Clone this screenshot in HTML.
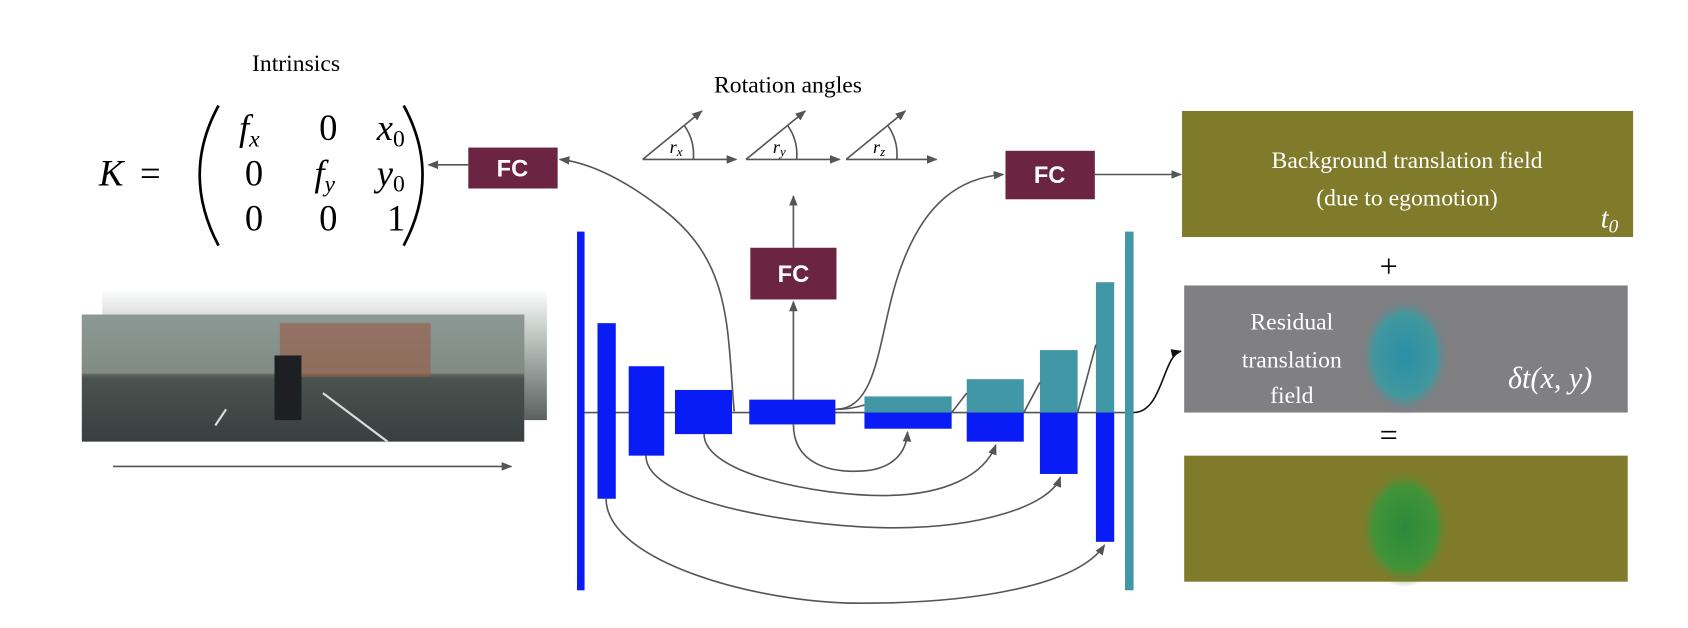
<!DOCTYPE html>
<html><head><meta charset="utf-8"><style>
body{margin:0;background:#fff;}
svg{display:block;font-family:"Liberation Serif",serif;}
</style></head><body>
<svg width="1688" height="628" viewBox="0 0 1568 583" preserveAspectRatio="none">
<defs>
<marker id="ah" markerWidth="10" markerHeight="8" refX="9" refY="4" orient="auto" markerUnits="userSpaceOnUse"><path d="M0,0 L10,4 L0,8 Z" fill="#555"/></marker>
<marker id="ahk" markerWidth="10" markerHeight="8" refX="9" refY="4" orient="auto" markerUnits="userSpaceOnUse"><path d="M0,0 L10,4 L0,8 Z" fill="#111"/></marker>
<linearGradient id="img1" x1="0" y1="0" x2="0" y2="1"><stop offset="0" stop-color="#8a9a98"/><stop offset="0.45" stop-color="#6f7a70"/><stop offset="0.5" stop-color="#4a5350"/><stop offset="1" stop-color="#3a3f3f"/></linearGradient>
<linearGradient id="img0" x1="0" y1="0" x2="0" y2="1"><stop offset="0" stop-color="#ffffff"/><stop offset="0.3" stop-color="#c8d0cc"/><stop offset="1" stop-color="#5a615f"/></linearGradient>
<radialGradient id="blob1" cx="0.5" cy="0.5" r="0.5"><stop offset="0" stop-color="#2a8fa8"/><stop offset="0.7" stop-color="#3a9aa0" stop-opacity="0.9"/><stop offset="1" stop-color="#807f82" stop-opacity="0"/></radialGradient>
<radialGradient id="blob2" cx="0.5" cy="0.5" r="0.5"><stop offset="0" stop-color="#2a8a3a"/><stop offset="0.7" stop-color="#3a963a" stop-opacity="0.9"/><stop offset="1" stop-color="#7f7b2a" stop-opacity="0"/></radialGradient>
</defs>

<text x="275" y="66" font-size="22" text-anchor="middle">Intrinsics</text>
<g font-size="34">
<text x="92" y="172" font-style="italic">K</text>
<text x="130" y="172">=</text>
<path d="M203,98 Q168,162 203,228" stroke="#000" stroke-width="2.5" fill="none"/>
<path d="M375,98 Q410,162 375,228" stroke="#000" stroke-width="2.5" fill="none"/>
<text x="222" y="130" font-style="italic">f<tspan font-size="22" dy="6">x</tspan></text>
<text x="305" y="130" text-anchor="middle">0</text>
<text x="350" y="130" font-style="italic">x<tspan font-size="22" font-style="normal" dy="6">0</tspan></text>
<text x="236" y="172" text-anchor="middle">0</text>
<text x="292" y="172" font-style="italic">f<tspan font-size="22" dy="6">y</tspan></text>
<text x="350" y="172" font-style="italic">y<tspan font-size="22" font-style="normal" dy="6">0</tspan></text>
<text x="236" y="214" text-anchor="middle">0</text>
<text x="305" y="214" text-anchor="middle">0</text>
<text x="368" y="214" text-anchor="middle">1</text>
</g>

<g>
<rect x="435" y="137" width="83" height="38" fill="#6b2442"/>
<text x="476" y="164" font-family="Liberation Sans,sans-serif" font-weight="bold" font-size="22" fill="#fff" text-anchor="middle">FC</text>
</g>
<line x1="435" y1="153" x2="398" y2="153" stroke="#555" stroke-width="1.5" marker-end="url(#ah)"/>

<g>
<rect x="697" y="230" width="80" height="48" fill="#6b2442"/>
<text x="737" y="262" font-family="Liberation Sans,sans-serif" font-weight="bold" font-size="22" fill="#fff" text-anchor="middle">FC</text>
</g>
<line x1="737" y1="230" x2="737" y2="182" stroke="#555" stroke-width="1.5" marker-end="url(#ah)"/>
<line x1="737" y1="371" x2="737" y2="280" stroke="#555" stroke-width="1.5" marker-end="url(#ah)"/>

<g>
<rect x="934" y="140" width="83" height="45" fill="#6b2442"/>
<text x="975" y="170" font-family="Liberation Sans,sans-serif" font-weight="bold" font-size="22" fill="#fff" text-anchor="middle">FC</text>
</g>
<line x1="1017" y1="162" x2="1097" y2="162" stroke="#555" stroke-width="1.5" marker-end="url(#ah)"/>

<text x="732" y="86" font-size="22" text-anchor="middle">Rotation angles</text>
<g stroke="#555" stroke-width="1.5" fill="none">
<line x1="597" y1="148" x2="684" y2="148" marker-end="url(#ah)"/><line x1="597" y1="148" x2="652" y2="103" marker-end="url(#ah)"/><path d="M644,148 A47,47 0 0 0 636,117"/>
<line x1="693" y1="148" x2="780" y2="148" marker-end="url(#ah)"/><line x1="693" y1="148" x2="748" y2="103" marker-end="url(#ah)"/><path d="M740,148 A47,47 0 0 0 732,117"/>
<line x1="786" y1="148" x2="870" y2="148" marker-end="url(#ah)"/><line x1="786" y1="148" x2="841" y2="103" marker-end="url(#ah)"/><path d="M833,148 A47,47 0 0 0 825,117"/>
</g>
<g font-size="17" font-style="italic">
<text x="622" y="142">r<tspan font-size="12" dy="3">x</tspan></text>
<text x="718" y="142">r<tspan font-size="12" dy="3">y</tspan></text>
<text x="811" y="142">r<tspan font-size="12" dy="3">z</tspan></text>
</g>

<g>
<rect x="95" y="268" width="413" height="122" fill="url(#img0)"/>
<rect x="76" y="292" width="411" height="118" fill="url(#img1)"/>
<rect x="76" y="292" width="411" height="55" fill="#8d9792" opacity="0.6"/>
<rect x="260" y="300" width="140" height="50" fill="#9a5a44" opacity="0.6"/>
<rect x="255" y="330" width="25" height="60" fill="#1e1f22"/>
<path d="M200,395 L210,380 M360,410 L300,365" stroke="#ddd" stroke-width="2"/>
</g>
<line x1="105" y1="433" x2="475" y2="433" stroke="#555" stroke-width="1.5" marker-end="url(#ah)"/>

<g>
<line x1="543" y1="383" x2="1045" y2="383" stroke="#555" stroke-width="1.5"/>
<rect x="536" y="215" width="7" height="333" fill="#0a1cf5"/>
<rect x="555" y="300" width="17" height="163" fill="#0a1cf5"/>
<rect x="584" y="340" width="33" height="83" fill="#0a1cf5"/>
<rect x="627" y="362" width="53" height="41" fill="#0a1cf5"/>
<rect x="696" y="371" width="80" height="23" fill="#0a1cf5"/>
<rect x="803" y="368" width="81" height="15" fill="#4297a6"/><rect x="803" y="383" width="81" height="15" fill="#0a1cf5"/>
<rect x="898" y="352" width="53" height="31" fill="#4297a6"/><rect x="898" y="383" width="53" height="27" fill="#0a1cf5"/>
<rect x="966" y="325" width="35" height="58" fill="#4297a6"/><rect x="966" y="383" width="35" height="57" fill="#0a1cf5"/>
<rect x="1018" y="262" width="17" height="121" fill="#4297a6"/><rect x="1018" y="383" width="17" height="120" fill="#0a1cf5"/>
<rect x="1045" y="215" width="8" height="333" fill="#4297a6"/>
<g stroke="#555" stroke-width="1.5" fill="none">
<line x1="884" y1="383" x2="898" y2="365"/><line x1="951" y1="383" x2="966" y2="355"/><line x1="1001" y1="383" x2="1018" y2="320"/>
<path d="M776,380 Q790,380 803,376"/>
<path d="M682,382 C675,300 680,240 610,190 C570,160 540,150 520,148" marker-end="url(#ah)"/>
<path d="M776,380 C820,380 815,300 840,240 C860,190 890,165 932,162" marker-end="url(#ah)"/>
<path d="M737,394 C737,430 770,440 805,437 C830,434 842,420 843,401" marker-end="url(#ah)"/>
<path d="M654,403 C654,440 760,460 820,460 C880,460 915,440 925,413" marker-end="url(#ah)"/>
<path d="M600,423 C600,470 760,490 830,490 C910,490 975,470 985,443" marker-end="url(#ah)"/>
<path d="M563,463 C563,520 700,560 800,560 C900,560 1000,545 1026,506" marker-end="url(#ah)"/>
</g>
<path d="M1053,383 C1080,383 1080,330 1097,326" stroke="#111" stroke-width="1.5" fill="none" marker-end="url(#ahk)"/>
</g>

<g>
<rect x="1098" y="103" width="419" height="117" fill="#7f7b2a"/>
<text x="1307" y="156" font-size="22" fill="#fff" text-anchor="middle">Background translation field</text>
<text x="1307" y="191" font-size="22" fill="#fff" text-anchor="middle">(due to egomotion)</text>
<text x="1487" y="211" font-size="26" font-style="italic" fill="#fff">t<tspan font-size="18" dy="5">0</tspan></text>
</g>
<text x="1290" y="257" font-size="30" text-anchor="middle">+</text>
<g>
<rect x="1100" y="265" width="412" height="118" fill="#807f82"/>
<ellipse cx="1305" cy="330" rx="42" ry="55" fill="url(#blob1)"/>
<text x="1200" y="306" font-size="22" fill="#fff" text-anchor="middle">Residual</text>
<text x="1200" y="341" font-size="22" fill="#fff" text-anchor="middle">translation</text>
<text x="1200" y="374" font-size="22" fill="#fff" text-anchor="middle">field</text>
<text x="1440" y="360" font-size="28" font-style="italic" fill="#fff" text-anchor="middle">δt(x, y)</text>
</g>
<text x="1290" y="414" font-size="30" text-anchor="middle">=</text>
<g>
<rect x="1100" y="423" width="412" height="117" fill="#7f7b2a"/>
<ellipse cx="1305" cy="490" rx="42" ry="55" fill="url(#blob2)"/>
</g>
</svg>
</body></html>
